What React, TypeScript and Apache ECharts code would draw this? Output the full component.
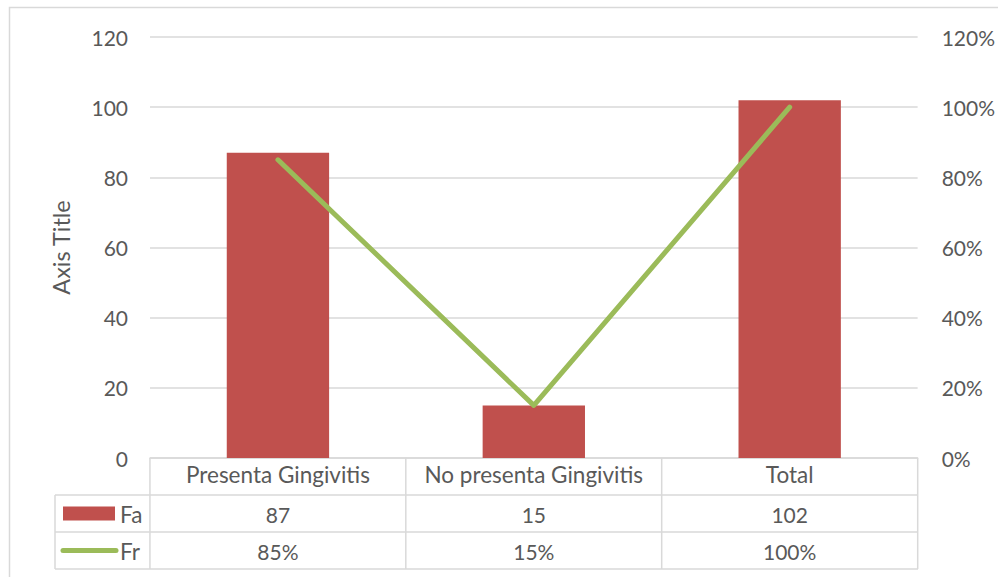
import { useEffect, useRef } from "react";
import * as echarts from "echarts";

// Chart data
const categories = ["Presenta Gingivitis", "No presenta Gingivitis", "Total"];
const seriesNames = ["Fa", "Fr"];
const faValues = [87, 15, 102];
const frValues = [0.85, 0.15, 1.0];
const axisTitle = "Axis Title";

const W = 998;
const H = 577;
const FONT = "Lato";
const TEXT = "#595959";
const GRIDLINE = "#d9d9d9";
const RED = "#C0504D";
const GREEN = "#9BBB59";

const GRID = { left: 150, right: 80, top: 37, bottom: 119 };
const ROW_H = 37;

const pct = (v: number) => `${Math.round(v * 100)}%`;

export default function App() {
  const ref = useRef<HTMLDivElement>(null);

  useEffect(() => {
    if (!ref.current) return;
    const chart = echarts.init(ref.current, null, { renderer: "svg", width: W, height: H });

    const numStyle = { color: TEXT, fontFamily: FONT, fontSize: 21 };
    const wordStyle = { color: TEXT, fontFamily: FONT, fontSize: 22.5 };

    chart.setOption({
      animation: false,
      backgroundColor: "#ffffff",
      grid: { ...GRID, containLabel: false },
      xAxis: {
        type: "category",
        data: categories,
        axisLine: { show: true, lineStyle: { color: GRIDLINE, width: 1.5 } },
        axisTick: { show: false },
        axisLabel: { ...wordStyle, margin: 5, interval: 0 },
      },
      yAxis: [
        {
          type: "value",
          min: 0,
          max: 120,
          interval: 20,
          name: axisTitle,
          nameLocation: "middle",
          nameGap: 77,
          nameTextStyle: { ...wordStyle, fontSize: 23.5 },
          axisLine: { show: false },
          axisTick: { show: false },
          axisLabel: { ...numStyle, margin: 22 },
          splitLine: { lineStyle: { color: GRIDLINE, width: 1.5 } },
        },
        {
          type: "value",
          min: 0,
          max: 1.2,
          interval: 0.2,
          position: "right",
          axisLine: { show: false },
          axisTick: { show: false },
          axisLabel: { ...numStyle, margin: 24, formatter: (v: number) => pct(v) },
          splitLine: { show: false },
        },
      ],
      series: [
        {
          name: seriesNames[0],
          type: "bar",
          data: faValues,
          barWidth: "40%",
          itemStyle: { color: RED },
        },
        {
          name: seriesNames[1],
          type: "line",
          yAxisIndex: 1,
          data: frValues,
          symbol: "none",
          lineStyle: { color: GREEN, width: 5, cap: "round", join: "round" },
        },
      ],
    });

    // Data table beneath the plot, aligned with the category bands
    const centers = categories.map((_, i) => chart.convertToPixel({ xAxisIndex: 0 }, i) as number);
    const plotLeft = GRID.left;
    const plotRight = W - GRID.right;
    const bandW = (plotRight - plotLeft) / categories.length;
    const top = H - GRID.bottom;
    const rowsY = [top, top + ROW_H, top + ROW_H * 2, top + ROW_H * 3];
    const legendLeft = 55;

    const line = (x1: number, y1: number, x2: number, y2: number) => ({
      type: "line",
      silent: true,
      shape: { x1, y1, x2, y2 },
      style: { stroke: GRIDLINE, lineWidth: 1.5 },
    });

    const text = (t: string, x: number, y: number, size: number, align = "center") => ({
      type: "text",
      silent: true,
      x,
      y,
      style: {
        text: t,
        fill: TEXT,
        font: `${size}px ${FONT}`,
        align,
        verticalAlign: "middle",
        textAlign: align,
        textVerticalAlign: "middle",
      },
    });

    const els: any[] = [];
    // outer chart frame
    els.push({
      type: "rect",
      silent: true,
      shape: { x: 9.5, y: 7.5, width: 1200, height: 800 },
      style: { fill: "none", stroke: GRIDLINE, lineWidth: 1.5 },
    });
    // horizontal rules
    els.push(line(legendLeft, rowsY[1], plotRight, rowsY[1]));
    els.push(line(legendLeft, rowsY[2], plotRight, rowsY[2]));
    els.push(line(legendLeft, rowsY[3], plotRight, rowsY[3]));
    // vertical rules
    els.push(line(legendLeft, rowsY[1], legendLeft, rowsY[3]));
    for (let i = 0; i <= categories.length; i++) {
      const x = i < categories.length ? centers[i] - bandW / 2 : centers[categories.length - 1] + bandW / 2;
      els.push(line(x, rowsY[0], x, rowsY[3]));
    }
    // legend keys
    const faMid = (rowsY[1] + rowsY[2]) / 2;
    const frMid = (rowsY[2] + rowsY[3]) / 2;
    els.push({
      type: "rect",
      silent: true,
      shape: { x: 63, y: faMid - 7, width: 52, height: 14 },
      style: { fill: RED },
    });
    els.push({
      type: "line",
      silent: true,
      shape: { x1: 63, y1: frMid, x2: 116, y2: frMid },
      style: { stroke: GREEN, lineWidth: 5, lineCap: "round" },
    });
    els.push(text(seriesNames[0], 120, faMid + 1, 22.5, "left"));
    els.push(text(seriesNames[1], 120, frMid + 1, 22.5, "left"));
    // values
    centers.forEach((cx, i) => {
      els.push(text(String(faValues[i]), cx, faMid + 1, 21));
      els.push(text(pct(frValues[i]), cx, frMid + 1, 21));
    });

    chart.setOption({ graphic: { elements: els } });

    return () => chart.dispose();
  }, []);

  return (
    <div
      ref={ref}
      style={{ position: "fixed", left: 0, top: 0, width: W, height: H, background: "#fff" }}
    />
  );
}
